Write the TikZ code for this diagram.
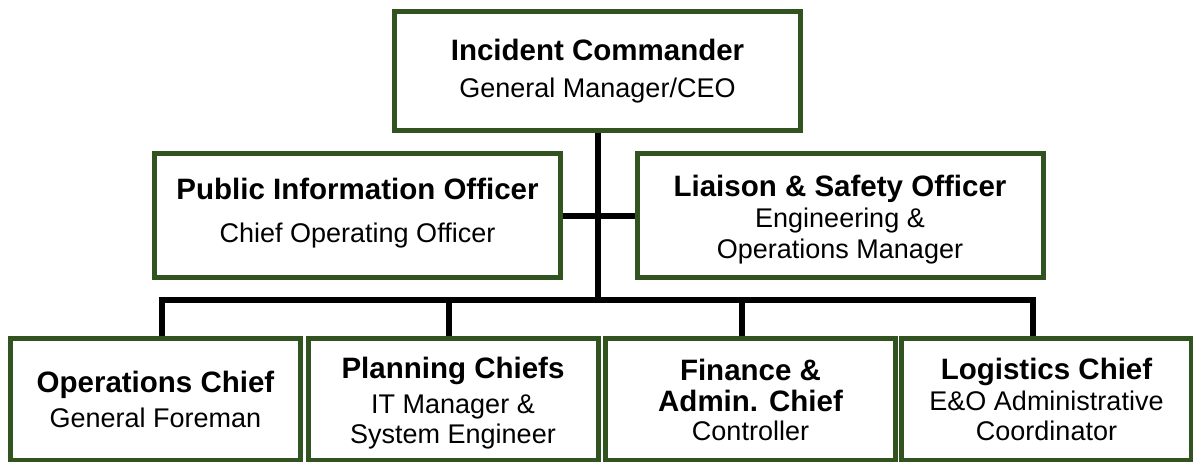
\documentclass[tikz,border=0pt]{standalone}
\usepackage{fontspec}
\setmainfont{Liberation Sans}
\usetikzlibrary{backgrounds}

\newcommand{\roletitle}[1]{{\fontsize{29.5}{31}\selectfont\bfseries #1}}

\begin{document}
\begin{tikzpicture}[x=1pt,y=-1pt,
  rolebox/.style={draw=boxgreen,line width=5pt,fill=white,align=center,inner sep=0pt,
    font=\fontsize{27}{31}\selectfont,minimum width=406pt,minimum height=124pt},
  chiefbox/.style={rolebox,minimum width=290pt,minimum height=122pt},
  link/.style={line width=6pt,line cap=rect}]
\definecolor{boxgreen}{HTML}{30531F}
\useasboundingbox (0,0) rectangle (1193,461);
% command staff
\node[rolebox,minimum height=119pt] (ic) at (597.5,71) {\roletitle{Incident Commander}\\[6.6pt]General Manager/CEO};
\node[rolebox] (pio) at (357.5,215.5) {\roletitle{Public Information Officer}\\[12pt]Chief Operating Officer\rule[-10pt]{0pt}{0pt}};
\node[rolebox] (lso) at (840,215.5) {\rule{0pt}{30pt}\roletitle{Liaison \& Safety Officer}\\[0pt]Engineering \&\\Operations Manager};
% general staff
\node[chiefbox] (ops) at (155.5,399.5) {\roletitle{Operations Chief}\\[4pt]General Foreman};
\node[chiefbox] (plan) at (453,399.5) {\rule{0pt}{29pt}\roletitle{Planning Chiefs}\\[4pt]IT Manager \&\\[-1pt]System Engineer};
\node[chiefbox] (fin) at (750.5,399.5) {\roletitle{Finance \&}\\[0.7pt]\roletitle{Admin. Chief}\\[-2.7pt]Controller};
\node[chiefbox] (log) at (1046.5,399.5) {\roletitle{Logistics Chief}\\[0.3pt]E\&O Administrative\\[-1pt]Coordinator};
% connectors
\begin{scope}[on background layer]
  \foreach \nm/\dx in {ops/162,plan/449,fin/742,log/1033}
  {  \coordinate (drop-\nm) at (\dx,300);
     \draw[link] (drop-\nm) -- (drop-\nm |- \nm.north);}
  \draw[link] (drop-ops) -- (drop-log);
  \draw[link] (ic.south) -- (ic.south |- drop-ops);
  \draw[link] (pio.east) -- (lso.west);
\end{scope}
\end{tikzpicture}
\end{document}
